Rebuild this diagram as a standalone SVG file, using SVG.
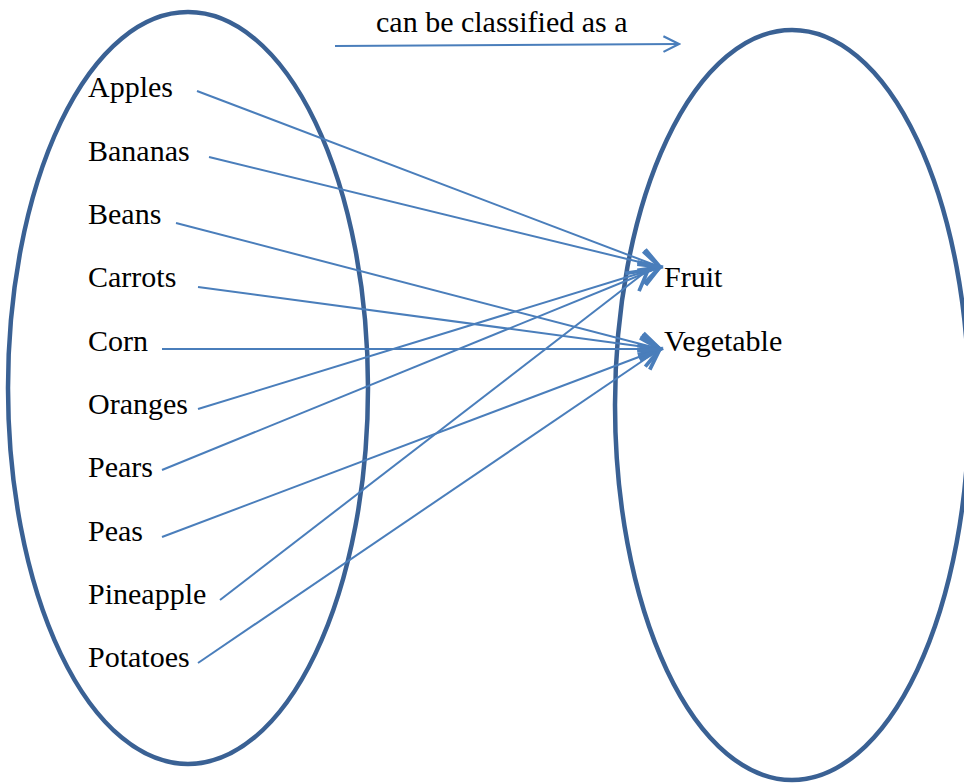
<svg xmlns="http://www.w3.org/2000/svg" width="964" height="783" viewBox="0 0 964 783">
<style>
.set{fill:none;stroke:#3A6194;stroke-width:4.5}
.c{fill:none;stroke:#4A7EBB;stroke-width:2}
text{font-family:"Liberation Serif",Tinos,"Times New Roman",Times,"Noto Serif","DejaVu Serif",serif;font-size:30px;fill:#000}
</style>
<defs>
<marker id="ah" markerUnits="userSpaceOnUse" markerWidth="30" markerHeight="30" refX="20" refY="10" orient="auto" viewBox="0 0 24 20">
<path d="M4,1 L20,10 L4,19" fill="none" stroke="#4A7EBB" stroke-width="3"/>
</marker>
<marker id="ah2" markerUnits="userSpaceOnUse" markerWidth="20" markerHeight="20" refX="16" refY="8" orient="auto" viewBox="0 0 18 16">
<path d="M2,1 L16,8 L2,15" fill="none" stroke="#4A7EBB" stroke-width="2"/>
</marker>
</defs>
<g id="domain"><ellipse class="set" cx="188" cy="388" rx="180" ry="376"/></g>
<g id="range"><ellipse class="set" cx="792" cy="405" rx="177" ry="375"/></g>
<g id="relation-label"><text x="376" y="32" font-family="Liberation Serif, serif">can be classified as a</text></g>
<g id="apples"><text x="88" y="97">Apples</text></g>
<g id="bananas"><text x="88" y="161">Bananas</text></g>
<g id="beans"><text x="88" y="224">Beans</text></g>
<g id="carrots"><text x="88" y="287">Carrots</text></g>
<g id="corn"><text x="88" y="351">Corn</text></g>
<g id="oranges"><text x="88" y="414">Oranges</text></g>
<g id="pears"><text x="88" y="477">Pears</text></g>
<g id="peas"><text x="88" y="541">Peas</text></g>
<g id="pineapple"><text x="88" y="604">Pineapple</text></g>
<g id="potatoes"><text x="88" y="667">Potatoes</text></g>
<g id="fruit"><text x="664" y="287">Fruit</text></g>
<g id="vegetable"><text x="664" y="351">Vegetable</text></g>
<g id="connectors">
<line class="c" x1="335" y1="46" x2="679" y2="44" marker-end="url(#ah2)"/>
<line class="c" x1="197" y1="91" x2="660" y2="267" marker-end="url(#ah)"/>
<line class="c" x1="209" y1="157" x2="660" y2="267" marker-end="url(#ah)"/>
<line class="c" x1="176" y1="223" x2="660" y2="349" marker-end="url(#ah)"/>
<line class="c" x1="198" y1="287" x2="660" y2="349" marker-end="url(#ah)"/>
<line class="c" x1="162" y1="349" x2="660" y2="349" marker-end="url(#ah)"/>
<line class="c" x1="198" y1="409" x2="660" y2="267" marker-end="url(#ah)"/>
<line class="c" x1="162" y1="470" x2="660" y2="267" marker-end="url(#ah)"/>
<line class="c" x1="162" y1="537" x2="660" y2="349" marker-end="url(#ah)"/>
<line class="c" x1="220" y1="600" x2="648" y2="270" marker-end="url(#ah)"/>
<line class="c" x1="198" y1="663" x2="660" y2="349" marker-end="url(#ah)"/>
</g>
</svg>
